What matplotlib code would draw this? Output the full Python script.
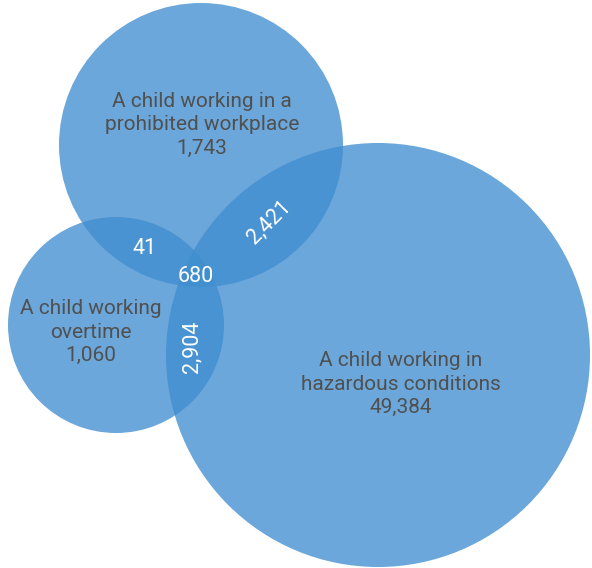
import matplotlib.pyplot as plt
from matplotlib.patches import Circle

plt.rcParams['font.family'] = ['Roboto', 'DejaVu Sans']

# sets: label, exclusive count
set_names = ['A child working in a\nprohibited workplace',
             'A child working\novertime',
             'A child working in\nhazardous conditions']
set_only = [1743, 1060, 49384]
# overlaps
overlap_names = ['prohibited & overtime', 'prohibited & hazardous',
                 'overtime & hazardous', 'all three']
overlap_values = [41, 2421, 2904, 680]

# layout (pixel units)
centers = [(201, 145), (116, 325), (378, 355)]
radii = [142, 108, 212]
label_pos = [(202, 125), (91, 332), (401, 384)]
overlap_pos = [(145, 249), (269, 222), (192, 347), (196, 276)]
overlap_rot = [0, 45, 90, 0]

fill = '#418ed0'

fig = plt.figure(figsize=(5.92, 5.68), dpi=100)
ax = fig.add_axes([0, 0, 1, 1])
ax.set_xlim(0, 592)
ax.set_ylim(568, 0)
ax.set_aspect('equal')
ax.axis('off')

for c, r in zip(centers, radii):
    ax.add_patch(Circle(c, r, facecolor=fill, edgecolor='none', alpha=0.78))

for name, v, (x, y) in zip(set_names, set_only, label_pos):
    ax.text(x, y, '{}\n{:,}'.format(name, v), ha='center', va='center',
            fontsize=15, color='#505050', linespacing=1.3)

for v, (x, y), rot in zip(overlap_values, overlap_pos, overlap_rot):
    ax.text(x, y, '{:,}'.format(v), ha='center', va='center', rotation=rot,
            fontsize=15.5, color='white')

fig.savefig('out.png', dpi=100)
